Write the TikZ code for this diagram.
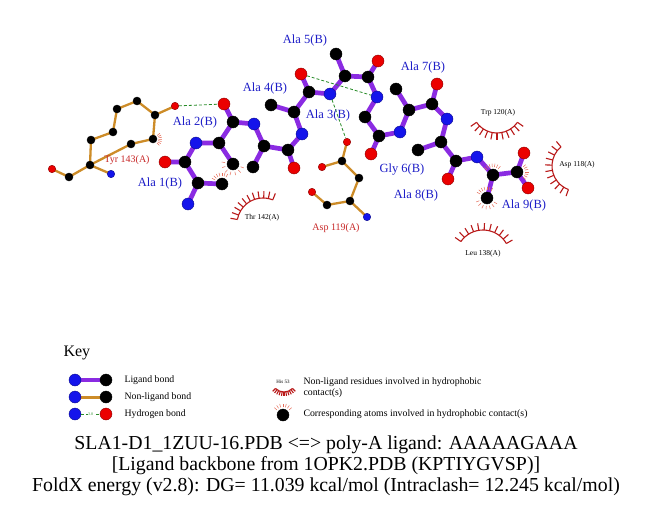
\documentclass[tikz,border=0pt]{standalone}
\usepackage{fontspec}
\setmainfont{Liberation Serif}

\definecolor{ligbond}{RGB}{138,43,226}
\definecolor{nlbond}{RGB}{205,140,40}
\definecolor{hbcol}{RGB}{40,140,40}
\definecolor{ncol}{RGB}{20,20,235}
\definecolor{ocol}{RGB}{235,0,0}
\definecolor{liglab}{RGB}{30,30,200}
\definecolor{reslab}{RGB}{200,40,40}
\definecolor{lash}{RGB}{185,25,25}
\definecolor{spoke}{RGB}{230,110,90}

\pgfdeclarelayer{paper}
\pgfdeclarelayer{bonds}
\pgfsetlayers{paper,bonds,main}

\tikzset{
  atom/.style={circle, inner sep=0pt, minimum size=12pt, line width=0.4pt},
  ligC/.style={atom, fill=black, draw=black},
  ligN/.style={atom, fill=ncol, draw=ncol!60!black},
  ligO/.style={atom, fill=ocol, draw=ocol!60!black},
  resC/.style={ligC, minimum size=8pt},
  resN/.style={ligN, minimum size=7.5pt},
  resO/.style={ligO, minimum size=7.5pt},
  lbond/.style={draw=ligbond, line width=4.7pt, line join=round},
  nbond/.style={draw=nlbond, line width=2.3pt, line join=round},
  hbond/.style={draw=hbcol, line width=0.8pt, dash pattern=on 3pt off 2pt},
  liglabel/.style={text=liglab, font=\fontsize{12.5}{14}\selectfont},
  reslabel/.style={text=reslab, font=\fontsize{10}{12}\selectfont},
  lashlabel/.style={font=\fontsize{7.5}{9}\selectfont},
  eyelash/.style={draw=lash, line width=1.1pt},
  hpspoke/.style={draw=spoke, line width=0.5pt},
  keytext/.style={anchor=west, font=\fontsize{9.8}{11}\selectfont},
  title/.style={font=\fontsize{19.8}{22}\selectfont},
}

% residue eyelash: centre, from, to, radius, spoke length
\newcommand\hpres[5]{%
  \pgfmathsetmacro\hpa{-(#2)}\pgfmathsetmacro\hpb{-(#3)}
  \draw[eyelash] ([shift={(\hpa:#4)}]#1) arc[start angle=\hpa, end angle=\hpb, radius=#4];
  \foreach \i [evaluate=\i as \a using -(#2+(#3-(#2))*\i/10),
               evaluate=\i as \r using #4+#5] in {0,...,10}
    \draw[eyelash] ([shift={(\a:#4)}]#1) -- ([shift={(\a:\r)}]#1);
}
% atom in contact: atom, from, to, inner radius
\newcommand\hpatom[4]{%
  \foreach \i [evaluate=\i as \a using -(#2+(#3-(#2))*\i/6),
               evaluate=\i as \r using #4+3.5] in {0,...,6}
    \draw[hpspoke] ([shift={(\a:#4)}]#1.center) -- ([shift={(\a:\r)}]#1.center);
}

\begin{document}
\begin{tikzpicture}[x=1pt, y=-1pt]
\begin{pgfonlayer}{paper}
\fill[white] (0,0) rectangle (651,511);
\end{pgfonlayer}
\useasboundingbox (0,0) rectangle (651,511);

% ligand
\node[ligN] (a1n) at (188,204) {};
\node[ligC] (a1ca) at (198,183) {};
\node[ligC] (a1cb) at (222,184) {};
\node[ligC] (a1c) at (185,162) {};
\node[ligO] (a1o) at (165,162) {};
\node[ligN] (a2n) at (196,143) {};
\node[ligC] (a2ca) at (219,143) {};
\node[ligC] (a2cb) at (233,164) {};
\node[ligC] (a2c) at (233,122) {};
\node[ligO] (a2o) at (224,104) {};
\node[ligN] (a3n) at (254,124) {};
\node[ligC] (a3ca) at (264,146) {};
\node[ligC] (a3cb) at (253,167) {};
\node[ligC] (a3c) at (288,150) {};
\node[ligO] (a3o) at (294,168) {};
\node[ligN] (a4n) at (302,134) {};
\node[ligC] (a4ca) at (294,112) {};
\node[ligC] (a4cb) at (271,105) {};
\node[ligC] (a4c) at (309,92) {};
\node[ligO] (a4o) at (301,74) {};
\node[ligN] (a5n) at (330,94) {};
\node[ligC] (a5ca) at (345,76) {};
\node[ligC] (a5cb) at (336,54) {};
\node[ligC] (a5c) at (368,77) {};
\node[ligO] (a5o) at (378,61) {};
\node[ligN] (g6n) at (377,97) {};
\node[ligC] (g6ca) at (365,117) {};
\node[ligC] (g6c) at (379,136) {};
\node[ligO] (g6o) at (371,154) {};
\node[ligN] (a7n) at (400,132) {};
\node[ligC] (a7ca) at (409,110) {};
\node[ligC] (a7cb) at (396,89) {};
\node[ligC] (a7c) at (432,104) {};
\node[ligO] (a7o) at (437,84) {};
\node[ligN] (a8n) at (447,119) {};
\node[ligC] (a8ca) at (441,142) {};
\node[ligC] (a8cb) at (418,150) {};
\node[ligC] (a8c) at (456,161) {};
\node[ligO] (a8o) at (448,179) {};
\node[ligN] (a9n) at (477,157) {};
\node[ligC] (a9ca) at (493,175) {};
\node[ligC] (a9cb) at (487,198) {};
\node[ligC] (a9c) at (517,172) {};
\node[ligO] (a9o) at (524,153) {};
\node[ligO] (a9oxt) at (528,188) {};

% Tyr 143
\node[resO] (tyrO) at (52,169) {};
\node[resC] (tyrC) at (69,177) {};
\node[resC] (tyrCA) at (90,165) {};
\node[resN] (tyrN) at (111,174) {};
\node[resC] (tyrCB) at (91,140) {};
\node[resC] (tyrCG) at (113,132) {};
\node[resC] (tyrCD1) at (117,109) {};
\node[resC] (tyrCE1) at (137,101) {};
\node[resC] (tyrCZ) at (155,115) {};
\node[resO] (tyrOH) at (175,106) {};
\node[resC] (tyrCE2) at (153,139) {};
\node[resC] (tyrCD2) at (131,144) {};

% Asp 119
\node[resO] (aspOD1) at (347,142) {};
\node[resC] (aspCG) at (342,161) {};
\node[resO] (aspOD2) at (322,167) {};
\node[resC] (aspCB) at (359,178) {};
\node[resC] (aspCA) at (350,201) {};
\node[resN] (aspN) at (367,217) {};
\node[resC] (aspC) at (327,205) {};
\node[resO] (aspO) at (312,192) {};

\begin{pgfonlayer}{bonds}
\draw[lbond] (a1n.center) -- (a1ca.center) -- (a1c.center) -- (a2n.center) -- (a2ca.center)
  -- (a2c.center) -- (a3n.center) -- (a3ca.center) -- (a3c.center) -- (a4n.center)
  -- (a4ca.center) -- (a4c.center) -- (a5n.center) -- (a5ca.center) -- (a5c.center)
  -- (g6n.center) -- (g6ca.center) -- (g6c.center) -- (a7n.center) -- (a7ca.center)
  -- (a7c.center) -- (a8n.center) -- (a8ca.center) -- (a8c.center) -- (a9n.center)
  -- (a9ca.center) -- (a9c.center) -- (a9o.center);
\draw[lbond] (a1ca.center) -- (a1cb.center) (a1c.center) -- (a1o.center)
  (a2ca.center) -- (a2cb.center) (a2c.center) -- (a2o.center)
  (a3ca.center) -- (a3cb.center) (a3c.center) -- (a3o.center)
  (a4ca.center) -- (a4cb.center) (a4c.center) -- (a4o.center)
  (a5ca.center) -- (a5cb.center) (a5c.center) -- (a5o.center)
  (g6c.center) -- (g6o.center)
  (a7ca.center) -- (a7cb.center) (a7c.center) -- (a7o.center)
  (a8ca.center) -- (a8cb.center) (a8c.center) -- (a8o.center)
  (a9ca.center) -- (a9cb.center) (a9c.center) -- (a9oxt.center);
\draw[nbond] (tyrO.center) -- (tyrC.center) -- (tyrCA.center) -- (tyrN.center)
  (tyrCA.center) -- (tyrCB.center) -- (tyrCG.center) -- (tyrCD1.center) -- (tyrCE1.center)
  -- (tyrCZ.center) -- (tyrCE2.center) -- (tyrCD2.center) -- cycle
  (tyrCZ.center) -- (tyrOH.center);
\draw[nbond] (aspOD1.center) -- (aspCG.center) -- (aspOD2.center)
  (aspCG.center) -- (aspCB.center) -- (aspCA.center) -- (aspN.center)
  (aspCA.center) -- (aspC.center) -- (aspO.center);
\end{pgfonlayer}

% hydrogen bonds
\draw[hbond] (tyrOH) -- (a2o);
\draw[hbond] (a4o) -- (g6n);
\draw[hbond] (a5n) -- (aspOD1);

% labels
\node[liglabel] at (160,183) {Ala 1(B)};
\node[liglabel] at (195,122) {Ala 2(B)};
\node[liglabel] at (328,115) {Ala 3(B)};
\node[liglabel] at (265,88) {Ala 4(B)};
\node[liglabel] at (305,40) {Ala 5(B)};
\node[liglabel] at (402,170) {Gly 6(B)};
\node[liglabel] at (423,67) {Ala 7(B)};
\node[liglabel] at (416,195) {Ala 8(B)};
\node[liglabel] at (524,205) {Ala 9(B)};
\node[reslabel] at (127,160) {Tyr 143(A)};
\node[reslabel] at (336,228) {Asp 119(A)};

% hydrophobic contacts
\coordinate (thr142) at (263,224);
\coordinate (trp120) at (497,108);
\coordinate (asp118) at (577,166);
\coordinate (leu138) at (483,257);
\hpres{thr142}{68}{170}{26}{7}
\hpres{trp120}{215}{325}{25}{7}
\hpres{asp118}{130}{250}{25}{7}
\hpres{leu138}{30}{145}{27}{7}
\node[lashlabel] at (262,218) {Thr 142(A)};
\node[lashlabel] at (498,113) {Trp 120(A)};
\node[lashlabel] at (577,165) {Asp 118(A)};
\node[lashlabel] at (483,254) {Leu 138(A)};
\hpatom{tyrCE2}{-45}{40}{5.5}
\hpatom{a1cb}{60}{150}{8}
\hpatom{a2cb}{170}{340}{8}
\hpatom{a9ca}{50}{140}{8}
\hpatom{a9cb}{60}{150}{8}
\hpatom{a9cb}{200}{330}{8}
\hpatom{a9c}{-40}{40}{8}

% key
\node[anchor=west, font=\fontsize{16}{18}\selectfont] at (60,353) {Key};
\node[ligN] (k1a) at (75,380) {};
\node[ligC] (k1b) at (106,380) {};
\node[ligN] (k2a) at (75,397) {};
\node[ligC] (k2b) at (106,397) {};
\node[ligN] (k3a) at (75,414) {};
\node[ligO] (k3b) at (106,414) {};
\begin{pgfonlayer}{bonds}
\draw[lbond] (k1a.center) -- (k1b.center);
\draw[nbond, line width=3pt] (k2a.center) -- (k2b.center);
\end{pgfonlayer}
\draw[hbond] (k3a) -- (k3b) node[midway, fill=white, inner sep=0.5pt, text=hbcol,
  font=\fontsize{4}{4}\selectfont] {3.0};
\node[keytext] at (121,380) {Ligand bond};
\node[keytext] at (121,397) {Non-ligand bond};
\node[keytext] at (121,414) {Hydrogen bond};
\coordinate (keylash) at (284,380);
\hpres{keylash}{225}{315}{12}{4}
\node[font=\fontsize{5}{5}\selectfont] at (283,382) {His 53};
\node[ligC] (k4) at (283,415) {};
\hpatom{k4}{40}{140}{8}
\node[keytext, align=left] at (300,388) {Non-ligand residues involved in hydrophobic\\contact(s)};
\node[keytext] at (300,414) {Corresponding atoms involved in hydrophobic contact(s)};

% title
\node[title] at (326,445) {SLA1-D1\_1ZUU-16.PDB <=> poly-A ligand: AAAAAGAAA};
\node[title] at (326,466) {[Ligand backbone from 1OPK2.PDB (KPTIYGVSP)]};
\node[title] at (326,487) {FoldX energy (v2.8): DG= 11.039 kcal/mol (Intraclash= 12.245 kcal/mol)};
\end{tikzpicture}
\end{document}
